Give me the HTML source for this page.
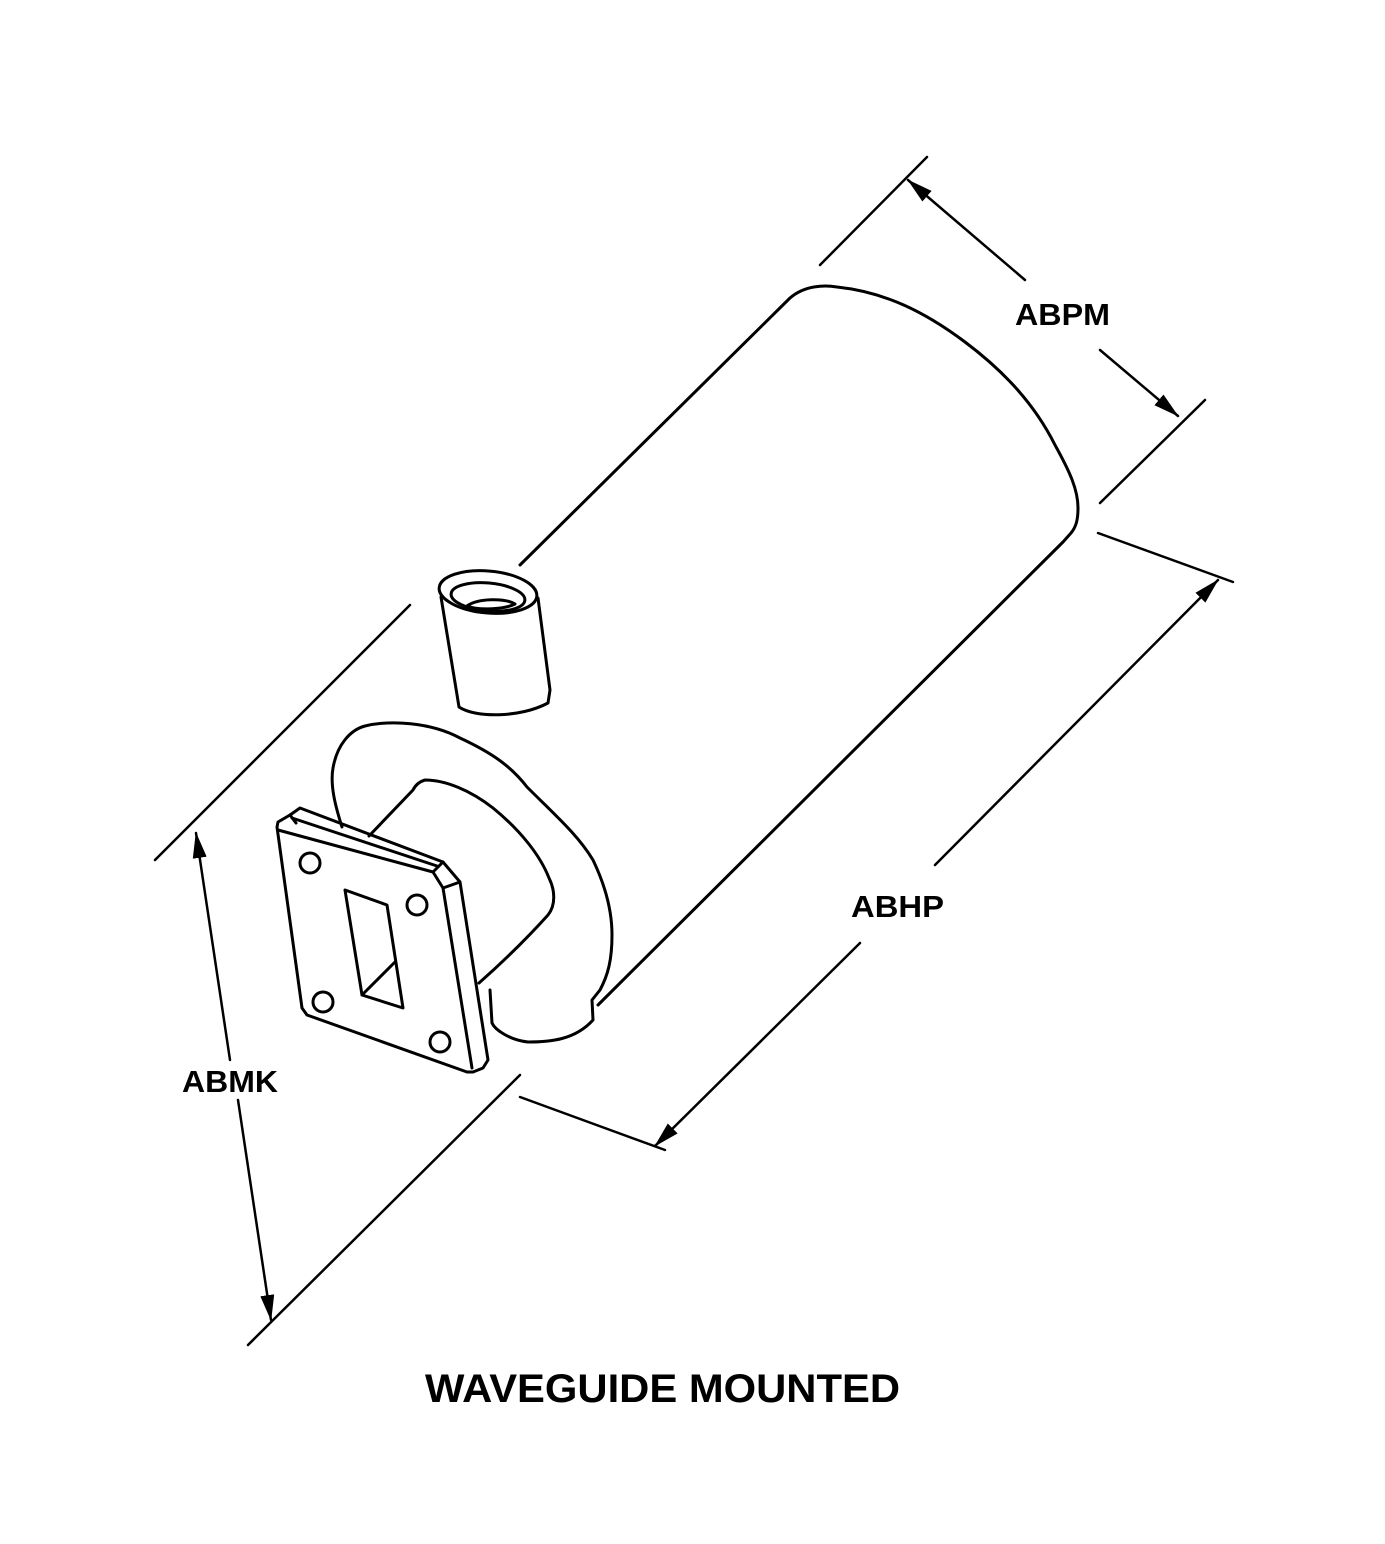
<!DOCTYPE html>
<html><head><style>
html,body{margin:0;padding:0;background:#fff;}
svg{display:block;}
text{font-family:"Liberation Sans",sans-serif;font-weight:bold;fill:#000;}
</style></head><body>
<svg width="1385" height="1544" viewBox="0 0 1385 1544" xmlns="http://www.w3.org/2000/svg">
<defs>
<marker id="ah2" markerWidth="26" markerHeight="14" refX="25" refY="7" orient="auto" markerUnits="userSpaceOnUse" viewBox="0 0 26 14"><path d="M0,0 L26,7 L0,14 Z" fill="#000"/></marker></defs>
<g fill="none" stroke="#000" stroke-width="3" stroke-linejoin="round" stroke-linecap="round">
<!-- cylinder -->
<path d="M520,565 L790,298 C805,285 825,285 837,287 C885,292 925,312 965,342 C1005,372 1035,405 1055,445 C1070,472 1078,490 1078,508 C1078,520 1076,527 1071,533 L1063,542 L598,1005"/>
<!-- extension lines -->
<line x1="155" y1="860" x2="410" y2="605" stroke-width="2.5"/>
<line x1="248" y1="1345" x2="520" y2="1075" stroke-width="2.5"/>
<line x1="820" y1="265" x2="927" y2="157" stroke-width="2.5"/>
<line x1="1100" y1="503" x2="1205" y2="400" stroke-width="2.5"/>
<line x1="1098" y1="533" x2="1233" y2="582" stroke-width="2.5"/>
<line x1="520" y1="1097" x2="665" y2="1150" stroke-width="2.5"/>
<!-- dimension arrows -->
<line x1="230" y1="1060" x2="196" y2="833" stroke-width="2.5" marker-end="url(#ah2)"/>
<line x1="238" y1="1100" x2="271" y2="1320" stroke-width="2.5" marker-end="url(#ah2)"/>
<line x1="1025" y1="280" x2="908" y2="180" stroke-width="2.5" marker-end="url(#ah2)"/>
<line x1="1100" y1="350" x2="1178" y2="416" stroke-width="2.5" marker-end="url(#ah2)"/>
<line x1="935" y1="865" x2="1218" y2="580" stroke-width="2.5" marker-end="url(#ah2)"/>
<line x1="860" y1="943" x2="655" y2="1146" stroke-width="2.5" marker-end="url(#ah2)"/>
<!-- connector -->
<ellipse cx="488" cy="592" rx="49" ry="21" transform="rotate(5 488 592)"/>
<ellipse cx="488" cy="597" rx="37" ry="14" transform="rotate(5 488 597)"/>
<path d="M467,606 C478,598 505,598 515,604 C505,609 480,611 467,606 Z"/>
<path d="M441,597 L459,707 C475,718 520,718 548,703 L550,690 L538,598"/>
<!-- flange disc -->
<path d="M342,827 C335,805 330,785 333,768 C337,745 350,730 365,726 C390,720 430,722 460,738 C490,752 510,765 527,787 C555,815 578,835 593,860 C605,885 612,910 612,935 C612,960 608,975 600,990 L592,1000 L593,1020 C575,1040 550,1042 528,1042 C510,1040 495,1030 492,1023 L490,990"/>
<path d="M479,983 C505,960 530,935 548,915 C556,905 555,890 549,878 C540,855 520,830 493,808 C470,790 445,780 425,780 C418,782 415,786 413,790 L369,836"/>
<!-- flange plate -->
<path d="M277,827 L278,822 L290,815 L300,808 L443,862 L460,882 L488,1060 L483,1068 L473,1072 L467,1072 L307,1015 L302,1008 Z"/>
<path d="M278,830 L433,872 L443,888 L472,1068"/>
<path d="M292,818 L437,866"/>
<path d="M433,872 L443,862 M443,888 L460,882 M290,815 L296,823"/>
<!-- holes -->
<circle cx="310" cy="863" r="10"/>
<circle cx="417" cy="905" r="10"/>
<circle cx="323" cy="1002" r="10"/>
<circle cx="440" cy="1042" r="10"/>
<path d="M345,890 L387,905 L403,1008 L362,995 Z"/>
<path d="M362,995 L395,962"/>
</g>
<text x="1015" y="325" font-size="31" textLength="95" lengthAdjust="spacingAndGlyphs">ABPM</text>
<text x="851" y="917" font-size="31" textLength="93" lengthAdjust="spacingAndGlyphs">ABHP</text>
<text x="182" y="1092" font-size="31" textLength="96" lengthAdjust="spacingAndGlyphs">ABMK</text>
<text x="425" y="1402" font-size="40" textLength="475" lengthAdjust="spacingAndGlyphs">WAVEGUIDE MOUNTED</text>
</svg>
</body></html>
